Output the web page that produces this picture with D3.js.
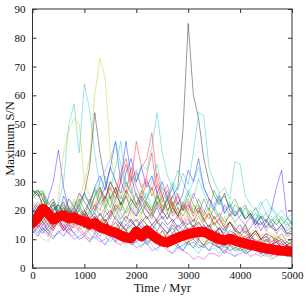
<!DOCTYPE html>
<html><head><meta charset="utf-8">
<script src="https://cdn.jsdelivr.net/npm/d3@7"></script>
<style>body{margin:0;background:#fff}svg{display:block}</style>
</head><body>
<div id="chart"></div>
<script>
// sample times (Myr), one value every 100 Myr
const times = d3.range(0, 5001, 100);
const xTicks = [0, 1000, 2000, 3000, 4000, 5000];
const yTicks = [0, 10, 20, 30, 40, 50, 60, 70, 80, 90];
const lineColors = ["#0000ff", "#008000", "#ff0000", "#00bfbf", "#bf00bf", "#bfbf00", "#000000"];

const s0 = [22,20,18,24,30,41,28,20,18,16,15,17,14,13,15,12,13,11,12,10,11,9,10,12,9,8,10,9,7,8,9,10,8,7,9,8,7,8,6,7,8,6,7,9,6,5,7,6,5,6,5];
const s1 = [27,26,22,19,20,17,18,16,17,15,14,16,13,15,12,14,12,11,13,10,11,12,9,10,11,9,10,8,9,10,8,9,7,8,10,8,7,6,8,7,6,7,8,6,5,7,6,5,6,5,4];
const s2 = [18,16,15,17,14,16,13,15,14,16,15,13,17,14,16,19,22,20,25,30,44,35,38,47,30,25,20,22,18,16,15,17,14,12,13,11,12,10,11,9,10,8,9,10,8,7,8,9,7,6,7];
const s3 = [15,13,12,14,16,22,30,50,57,40,64,55,40,28,22,18,20,16,15,14,13,15,12,14,11,13,10,12,9,11,10,12,9,8,10,9,8,7,9,8,6,7,8,6,7,5,6,7,5,6,5];
const s4 = [14,12,15,13,11,12,14,12,10,11,12,10,11,9,10,12,9,8,10,9,7,8,9,6,7,8,6,5,7,6,5,3,4,3,5,5,4,6,5,4,5,6,4,5,4,5,3,4,5,4,4];
const s5 = [20,17,15,18,14,16,18,22,20,24,30,38,60,73,66,40,30,25,22,18,16,18,15,14,16,13,12,14,11,12,10,11,13,9,10,12,9,8,10,9,8,9,7,8,10,7,8,6,7,8,6];
const s6 = [25,27,24,20,18,19,17,20,18,22,26,35,54,40,30,24,28,22,25,20,18,21,17,19,16,18,15,17,14,16,13,15,12,14,11,13,12,10,11,12,9,10,11,9,8,10,8,9,7,8,7];
const s7 = [19,22,20,18,21,19,17,20,18,16,19,17,20,24,28,35,44,30,44,32,25,22,20,18,21,17,19,16,18,15,17,14,16,13,15,12,14,11,13,12,10,11,12,9,10,11,9,10,8,9,8];
const s8 = [26,27,25,21,18,20,16,18,15,17,14,16,13,15,17,14,12,15,13,11,14,12,15,11,13,10,12,14,11,13,16,14,18,15,13,16,12,14,11,13,12,10,11,13,10,9,11,10,12,9,10];
const s9 = [16,14,18,15,13,17,14,12,15,13,11,14,12,16,13,19,24,30,36,28,22,26,32,40,26,20,24,18,21,16,18,14,16,13,15,12,14,11,10,12,9,11,10,8,9,7,8,10,7,8,7];
const s10 = [21,19,17,20,18,16,19,17,15,18,16,20,25,30,34,38,44,36,28,32,30,36,34,42,54,40,32,28,34,30,26,30,35,28,24,22,26,20,23,19,21,18,20,17,19,16,18,15,17,14,16];
const s11 = [17,15,13,16,14,18,15,13,16,14,12,15,13,11,14,12,10,13,11,9,12,10,14,11,9,13,10,12,9,11,13,10,14,11,12,9,11,8,10,9,8,10,7,9,8,6,8,7,9,6,7];
const s12 = [14,12,10,9,13,25,40,48,52,50,30,25,22,28,20,24,18,22,17,20,16,19,22,18,25,20,17,23,19,16,20,18,15,17,14,16,13,15,12,14,11,13,10,12,11,9,10,12,9,10,9];
const s13 = [24,26,22,20,23,19,21,18,20,17,19,16,18,15,17,14,16,13,15,17,14,16,18,15,17,20,22,25,28,48,85,60,52,38,30,25,22,26,20,18,21,17,19,16,15,17,14,13,15,12,12];
const s14 = [13,11,14,12,10,13,11,14,12,10,11,9,12,10,8,11,9,12,10,8,9,11,8,10,12,9,7,10,8,6,9,7,10,8,6,9,7,5,8,6,7,5,6,8,5,6,4,7,5,6,5];
const s15 = [27,26,27,23,20,22,19,21,18,20,17,19,22,18,21,25,20,23,19,22,26,21,24,28,22,25,20,23,19,21,24,20,22,18,21,17,19,16,18,22,20,17,19,15,18,16,14,17,15,13,14];
const s16 = [15,18,16,14,17,15,13,16,19,17,14,18,22,20,25,28,24,30,26,35,28,24,30,27,33,25,29,22,26,20,23,19,21,17,19,15,17,14,16,13,12,14,11,13,10,12,9,11,10,8,9];
const s17 = [18,16,19,17,15,18,16,14,17,20,18,22,19,24,21,26,23,20,25,22,19,23,26,21,24,28,25,30,27,33,29,40,54,53,35,30,26,28,24,37,36,25,22,20,23,19,21,18,20,17,19];
const s18 = [19,17,20,18,16,19,17,21,18,16,20,17,15,19,16,14,18,15,13,17,14,16,13,15,17,14,12,16,13,15,12,14,11,13,10,12,14,11,9,12,10,8,11,9,7,10,8,9,7,8,6];
const s19 = [16,19,17,15,18,20,22,19,24,21,26,23,28,25,22,27,24,21,26,23,20,24,21,18,22,19,23,20,17,21,18,22,19,16,20,17,15,18,14,16,13,15,12,14,11,13,12,10,11,12,10];
const s20 = [27,25,26,22,24,20,23,19,21,18,20,17,19,16,18,20,17,15,18,16,14,17,15,13,16,14,12,15,13,11,14,12,10,13,11,9,12,10,8,11,9,8,10,7,9,8,6,8,7,5,6];
const s21 = [12,14,16,13,15,17,14,16,18,15,17,14,16,13,15,12,14,16,13,15,17,14,12,15,13,16,14,12,15,13,11,14,12,15,13,11,14,12,16,13,15,12,14,17,13,16,20,28,34,18,15];
const s22 = [23,21,24,20,22,18,21,17,19,22,18,20,17,19,16,18,21,17,20,24,21,19,23,20,26,22,19,25,21,18,22,19,24,20,17,21,18,15,19,16,18,21,17,19,16,14,17,15,18,16,13];
const s23 = [20,23,21,18,16,19,17,15,18,16,14,17,15,13,16,14,12,15,13,11,14,12,10,13,11,9,12,10,8,11,9,12,10,8,11,9,7,10,8,9,7,8,6,9,7,5,8,6,7,5,6];
const s24 = [17,14,12,15,13,16,14,12,11,13,15,12,10,13,11,9,12,10,8,11,9,7,10,8,6,9,7,5,8,6,9,7,5,8,6,7,5,8,6,4,7,5,6,8,5,4,6,5,7,4,5];
const s25 = [12,15,13,11,14,16,13,15,12,14,16,13,18,15,20,17,22,19,16,21,18,24,20,17,22,19,25,21,18,23,20,26,22,19,24,20,17,22,18,20,17,15,18,14,16,13,15,12,14,11,12];
const s26 = [22,20,18,21,17,19,16,18,15,17,19,16,14,17,15,13,16,14,12,15,13,11,14,12,10,13,11,9,12,10,8,11,9,7,10,8,9,7,8,6,7,5,8,6,7,5,6,4,7,5,6];
const s27 = [18,21,19,17,20,22,19,24,21,26,23,20,25,28,24,30,26,22,27,24,21,25,22,19,23,20,17,21,18,22,19,16,20,17,14,18,15,13,16,14,12,15,11,13,10,12,11,9,10,8,9];
const s28 = [20,18,16,19,22,18,25,21,19,23,26,22,28,32,27,35,30,26,33,38,30,35,28,32,26,30,24,28,22,26,34,30,38,28,24,21,25,19,22,18,20,17,19,15,18,14,16,13,15,12,13];
const s29 = [25,27,26,20,23,19,22,18,21,24,20,23,27,22,25,21,28,24,30,26,22,27,23,20,25,21,24,19,23,20,26,22,19,24,20,27,23,25,21,24,20,22,18,21,17,19,16,18,15,17,16];
const s30 = [13,16,14,12,15,17,14,19,16,21,18,24,20,27,23,30,26,33,38,30,34,28,31,25,29,23,27,21,25,20,22,18,21,16,19,15,17,14,16,13,11,13,10,12,9,11,8,10,9,7,8];
const s31 = [16,14,17,15,19,17,21,18,23,20,25,22,28,24,32,27,35,44,30,26,33,28,24,30,36,27,23,29,25,22,27,24,31,26,22,20,24,19,22,18,21,17,19,16,22,24,21,19,17,15,16];

// thick red mean curve
const meanValues = [15.6,17.5,20.6,19,16.8,17.8,18.3,17.2,17.6,16.6,16.2,15.2,15.6,14.1,13.6,12.8,12.3,11.3,10.6,10.3,12.7,11.0,13.0,11.5,10.2,9.2,8.9,9.8,10.6,11.2,11.8,12.2,12.5,12.6,11.7,10.8,10.0,9.6,10.2,9.5,9.0,8.5,8.0,7.7,7.2,6.8,6.5,6.2,6.0,5.9,5.7];

const series = [s0,s1,s2,s3,s4,s5,s6,s7,s8,s9,s10,s11,s12,s13,s14,s15,s16,s17,s18,s19,s20,s21,s22,s23,s24,s25,s26,s27,s28,s29,s30,s31];

const W = 308, H = 300;
const m = {left: 32.5, right: 16, top: 9, bottom: 32};
const x = d3.scaleLinear().domain([0, 5000]).range([m.left, W - m.right]);
const y = d3.scaleLinear().domain([0, 90]).range([H - m.bottom, m.top]);

const svg = d3.select("#chart").append("svg").attr("width", W).attr("height", H)
  .style("font-family", "'Liberation Serif', 'Times New Roman', serif");

svg.append("clipPath").attr("id", "clip").append("rect")
  .attr("x", m.left).attr("y", m.top)
  .attr("width", W - m.left - m.right).attr("height", H - m.top - m.bottom);

const line = d3.line().x((d, i) => x(times[i])).y(d => y(d));
const g = svg.append("g").attr("clip-path", "url(#clip)");

g.selectAll("path.thin").data(series).join("path")
  .attr("class", "thin")
  .attr("d", line)
  .attr("fill", "none")
  .attr("stroke", (d, i) => lineColors[i % lineColors.length])
  .attr("stroke-opacity", 0.5)
  .attr("stroke-width", 0.8);

g.append("path").datum(meanValues)
  .attr("d", line)
  .attr("fill", "none")
  .attr("stroke", "#ff0000")
  .attr("stroke-width", 10)
  .attr("stroke-linejoin", "round")
  .attr("stroke-linecap", "round");

// axes (ticks inward on all four sides)
const xb = d3.axisBottom(x).tickValues(xTicks).tickSize(-4).tickPadding(3).tickFormat(d3.format("d"));
const xt = d3.axisTop(x).tickValues(xTicks).tickSize(-4).tickFormat("");
const yl = d3.axisLeft(y).tickValues(yTicks).tickSize(-4).tickPadding(7).tickFormat(d3.format("d"));
const yr = d3.axisRight(y).tickValues(yTicks).tickSize(-4).tickFormat("");

function style(sel) {
  sel.select(".domain").remove();
  sel.selectAll("line").attr("stroke", "#333");
  sel.selectAll("text").attr("font-family", "'Liberation Serif', serif").attr("font-size", 11).attr("fill", "#111");
}
svg.append("g").attr("transform", `translate(0,${H - m.bottom})`).call(xb).call(style);
svg.append("g").attr("transform", `translate(0,${m.top})`).call(xt).call(style);
svg.append("g").attr("transform", `translate(${m.left},0)`).call(yl).call(style);
svg.append("g").attr("transform", `translate(${W - m.right},0)`).call(yr).call(style);

svg.append("rect").attr("x", m.left).attr("y", m.top)
  .attr("width", W - m.left - m.right).attr("height", H - m.top - m.bottom)
  .attr("fill", "none").attr("stroke", "#333").attr("stroke-width", 1);

svg.append("text").attr("x", (x(0) + x(5000)) / 2).attr("y", 292)
  .attr("text-anchor", "middle").attr("font-size", 12.5).attr("fill", "#111").text("Time / Myr");
svg.append("text").attr("transform", `translate(14,${(y(0) + y(90)) / 2}) rotate(-90)`)
  .attr("text-anchor", "middle").attr("font-size", 12.5).attr("fill", "#111").text("Maximum S/N");
</script>
</body></html>
